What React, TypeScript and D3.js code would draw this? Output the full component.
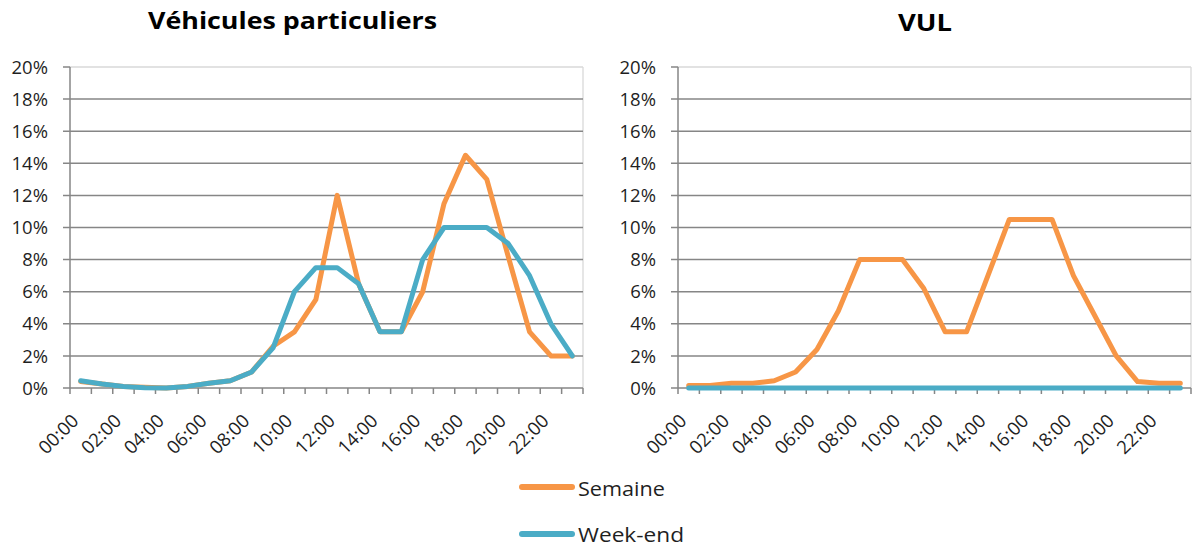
import React from "react";
import * as d3 from "d3";

const hours = [
  "00:00", "01:00", "02:00", "03:00", "04:00", "05:00", "06:00", "07:00",
  "08:00", "09:00", "10:00", "11:00", "12:00", "13:00", "14:00", "15:00",
  "16:00", "17:00", "18:00", "19:00", "20:00", "21:00", "22:00", "23:00",
];
const yTicks = [0, 0.02, 0.04, 0.06, 0.08, 0.1, 0.12, 0.14, 0.16, 0.18, 0.2];

const vpSemaine = [0.4, 0.25, 0.1, 0.05, 0, 0.1, 0.3, 0.45, 1.0, 2.6, 3.5, 5.5, 12, 6.5, 3.5, 3.5, 6, 11.5, 14.5, 13, 8.2, 3.5, 2, 2];
const vpWeekend = [0.45, 0.25, 0.1, 0.02, 0, 0.1, 0.3, 0.45, 1.0, 2.5, 6, 7.5, 7.5, 6.5, 3.5, 3.5, 8, 10, 10, 10, 9, 7, 4, 2];
const vulSemaine = [0.15, 0.15, 0.3, 0.3, 0.45, 1, 2.4, 4.8, 8, 8, 8, 6.2, 3.5, 3.5, 7, 10.5, 10.5, 10.5, 7, 4.5, 2, 0.4, 0.3, 0.3];
const vulWeekend = [0, 0, 0, 0, 0, 0, 0, 0, 0, 0, 0, 0, 0, 0, 0, 0, 0, 0, 0, 0, 0, 0, 0, 0];

const seriesNames = ["Semaine", "Week-end"];
const colors = ["#F79646", "#4BACC6"];

const FONT = "'Open Sans', 'Noto Sans', sans-serif";
const TEXT = "#1f1f1f";

type PanelProps = {
  title: string;
  titleX: number;
  titleY: number;
  titleLen: number;
  x0: number;
  x1: number;
  series: number[][];
};

function Panel({ title, titleX, titleY, titleLen, x0, x1, series }: PanelProps) {
  const top = 67;
  const bottom = 388;
  const x = d3.scaleBand<string>().domain(hours).range([x0, x1]).padding(0);
  const y = d3.scaleLinear().domain([0, 0.2]).range([bottom, top]);
  const cx = (h: string) => (x(h) as number) + x.bandwidth() / 2;
  const line = d3
    .line<number>()
    .x((_, i) => cx(hours[i]))
    .y((v) => y(v / 100));
  const fmt = d3.format(".0%");
  const boundaries = d3.range(hours.length + 1).map((i) => x0 + i * x.bandwidth());

  return (
    <g>
      <text
        x={titleX}
        y={titleY}
        textAnchor="middle"
        fontFamily={FONT}
        fontWeight="bold"
        fontSize={24}
        fill="#000"
        textLength={titleLen}
        lengthAdjust="spacingAndGlyphs"
      >
        {title}
      </text>
      <line x1={x0} x2={x1} y1={y(0.2)} y2={y(0.2)} stroke="#d9d9d9" strokeWidth={1.3} />
      <line x1={x1} x2={x1} y1={top} y2={bottom} stroke="#d9d9d9" strokeWidth={1.3} />
      {yTicks.map((t) => (
        <g key={t}>
          {t > 0 && t < 0.2 && (
            <line x1={x0 - 7} x2={x1} y1={y(t)} y2={y(t)} stroke="#868686" strokeWidth={1.5} />
          )}
          {t === 0.2 && <line x1={x0 - 7} x2={x0} y1={y(t)} y2={y(t)} stroke="#868686" strokeWidth={1.5} />}
          <text
            x={x0 - 22}
            y={y(t)}
            dy="0.36em"
            textAnchor="end"
            fontFamily={FONT}
            fontSize={18.5}
            fill={TEXT}
          >
            {fmt(t)}
          </text>
        </g>
      ))}
      <line x1={x0} x2={x0} y1={top} y2={bottom} stroke="#868686" strokeWidth={1.5} />
      <line x1={x0 - 7} x2={x1} y1={bottom} y2={bottom} stroke="#868686" strokeWidth={1.5} />
      {boundaries.map((b, i) => (
        <line key={i} x1={b} x2={b} y1={bottom} y2={bottom + 6} stroke="#868686" strokeWidth={1.5} />
      ))}
      {hours.map((h, i) =>
        i % 2 === 0 ? (
          <text
            key={h}
            transform={`translate(${cx(h) - 1},${bottom + 34}) rotate(-45)`}
            textAnchor="end"
            fontFamily={FONT}
            fontSize={18.5}
            fill={TEXT}
          >
            {h}
          </text>
        ) : null
      )}
      {series.map((s, k) => (
        <path
          key={k}
          d={line(s) as string}
          fill="none"
          stroke={colors[k]}
          strokeWidth={5}
          strokeLinejoin="round"
          strokeLinecap="round"
        />
      ))}
    </g>
  );
}

export default function App() {
  return (
    <svg
      width={1192}
      height={547}
      style={{ position: "absolute", left: 0, top: 0, background: "#fff" }}
    >
      <rect width={1192} height={547} fill="#fff" />
      <Panel
        title="Véhicules particuliers"
        titleX={292.5}
        titleY={29}
        titleLen={289}
        x0={70}
        x1={583}
        series={[vpSemaine, vpWeekend]}
      />
      <Panel
        title="VUL"
        titleX={925}
        titleY={31}
        titleLen={54}
        x0={678}
        x1={1191}
        series={[vulSemaine, vulWeekend]}
      />
      {seriesNames.map((n, k) => (
        <g key={n}>
          <line
            x1={522}
            x2={572}
            y1={487 + k * 47}
            y2={487 + k * 47}
            stroke={colors[k]}
            strokeWidth={6}
            strokeLinecap="round"
          />
          <text
            x={578}
            y={496 + k * 46}
            fontFamily={FONT}
            fontSize={20}
            fill={TEXT}
            textLength={k === 0 ? 87 : 106}
            lengthAdjust="spacingAndGlyphs"
          >
            {n}
          </text>
        </g>
      ))}
    </svg>
  );
}
